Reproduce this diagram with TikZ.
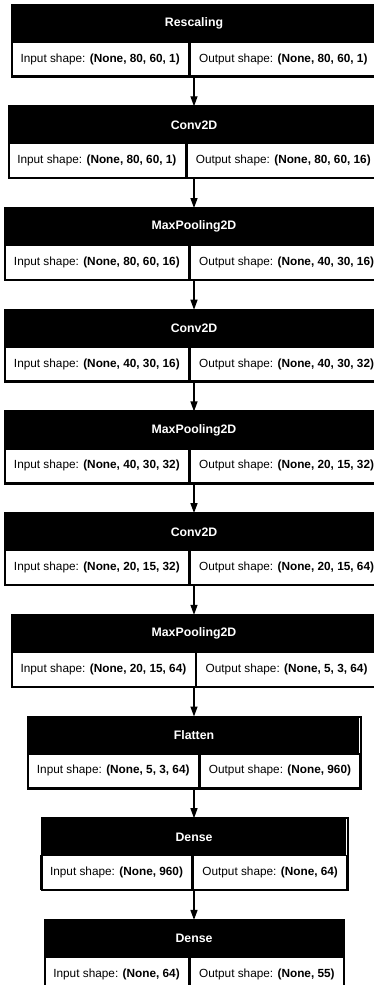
\documentclass[tikz,border=0pt]{standalone}
\usepackage{fontspec}
\setmainfont{Liberation Sans}
\usetikzlibrary{arrows.meta}

\newlength\inw
\newlength\outw
\newcommand\cellfont{\fontsize{11.8}{14}\selectfont}
% one layer box: name, top, title, input shape, output shape
\newcommand\layer[5]{%
  \pgfinterruptpicture
    \sbox0{\cellfont Input shape: \textbf{#4}}\global\inw=\wd0
    \sbox0{\cellfont Output shape: \textbf{#5}}\global\outw=\wd0
  \endpgfinterruptpicture
  \pgfmathsetmacro\divx{194+(\inw-\outw)/2}%
  \node[cell, anchor=east] (#1in) at (\divx,#2+54) {Input shape: \textbf{#4}};
  \node[cell, anchor=west] (#1out) at (\divx,#2+54) {Output shape: \textbf{#5}};
  \node[head, anchor=south, minimum width={\inw+\outw+36pt}] (#1) at (194,#2+37) {#3};
  \draw[frame] (#1.north west) rectangle (#1out.south east);
  \coordinate (#1bot) at (194,#2+71);
}

\begin{document}
\begin{tikzpicture}[x=1pt, y=-1pt,
  cell/.style={draw, fill=white, line width=1.4pt, font=\cellfont,
    minimum height=34pt, inner xsep=9pt, inner ysep=0pt},
  head/.style={fill=black, text=white, minimum height=37pt, inner sep=0pt,
    font=\fontsize{12.3}{14}\selectfont\bfseries},
  frame/.style={line width=2pt},
  flow/.style={-{Triangle[length=10pt,width=7pt]}, line width=1.3pt}]
\path[use as bounding box, clip] (0,0) rectangle (374,985);
% layers, top to bottom
\layer{rescale}{5}{Rescaling}{(None, 80, 60, 1)}{(None, 80, 60, 1)}
\layer{convA}{106.7}{Conv2D}{(None, 80, 60, 1)}{(None, 80, 60, 16)}
\layer{poolA}{208.4}{MaxPooling2D}{(None, 80, 60, 16)}{(None, 40, 30, 16)}
\layer{convB}{310.1}{Conv2D}{(None, 40, 30, 16)}{(None, 40, 30, 32)}
\layer{poolB}{411.8}{MaxPooling2D}{(None, 40, 30, 32)}{(None, 20, 15, 32)}
\layer{convC}{513.5}{Conv2D}{(None, 20, 15, 32)}{(None, 20, 15, 64)}
\layer{poolC}{615.2}{MaxPooling2D}{(None, 20, 15, 64)}{(None, 5, 3, 64)}
\layer{flat}{716.9}{Flatten}{(None, 5, 3, 64)}{(None, 960)}
\layer{denseA}{818.6}{Dense}{(None, 960)}{(None, 64)}
\layer{denseB}{920.3}{Dense}{(None, 64)}{(None, 55)}
% arrows between layers
\draw[flow] (rescalebot) -- (convA.north);
\draw[flow] (convAbot) -- (poolA.north);
\draw[flow] (poolAbot) -- (convB.north);
\draw[flow] (convBbot) -- (poolB.north);
\draw[flow] (poolBbot) -- (convC.north);
\draw[flow] (convCbot) -- (poolC.north);
\draw[flow] (poolCbot) -- (flat.north);
\draw[flow] (flatbot) -- (denseA.north);
\draw[flow] (denseAbot) -- (denseB.north);
\end{tikzpicture}
\end{document}
